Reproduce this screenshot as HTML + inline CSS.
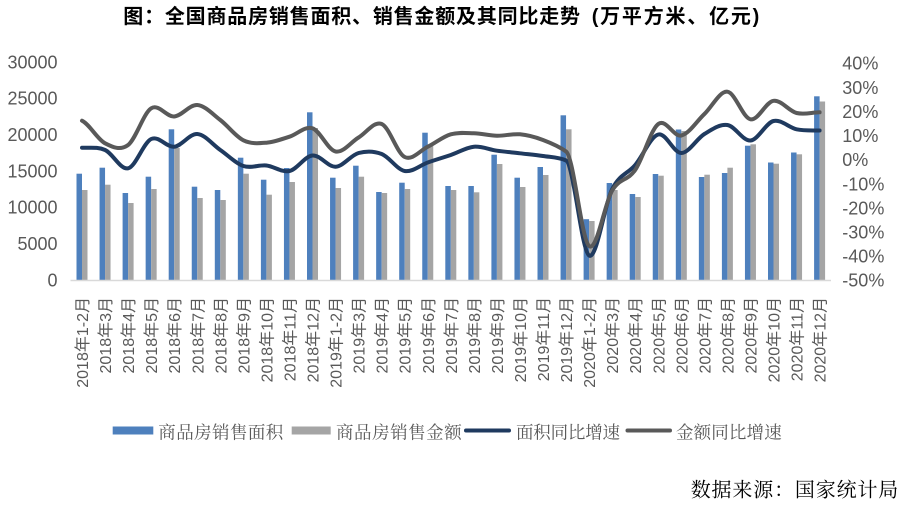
<!DOCTYPE html>
<html><head><meta charset="utf-8"><style>
html,body{margin:0;padding:0;background:#fff;}
svg{display:block;}
</style></head><body>
<svg width="924" height="514" viewBox="0 0 924 514" xmlns="http://www.w3.org/2000/svg">
<rect width="924" height="514" fill="#fff"/>
<!-- Title -->
<text x="123.3" y="23" font-family="'Liberation Sans','Noto Sans CJK SC',sans-serif" font-size="20" font-weight="bold" fill="#000" textLength="456.7">图：全国商品房销售面积、销售金额及其同比走势</text>
<text x="591.7" y="23" font-family="'Liberation Sans','Noto Sans CJK SC',sans-serif" font-size="20" font-weight="bold" fill="#000" textLength="167.6">(万平方米、亿元)</text>

<!-- Left axis labels -->
<g font-family="'Liberation Sans',sans-serif" font-size="18" fill="#595959" text-anchor="end">
<text x="57.5" y="68.4">30000</text>
<text x="57.5" y="104.7">25000</text>
<text x="57.5" y="141.1">20000</text>
<text x="57.5" y="177.4">15000</text>
<text x="57.5" y="213.7">10000</text>
<text x="57.5" y="250.1">5000</text>
<text x="57.5" y="286.4">0</text>
</g>
<!-- Right axis labels -->
<g font-family="'Liberation Sans',sans-serif" font-size="18" fill="#595959">
<text x="842.3" y="69.7">40%</text>
<text x="842.3" y="93.8">30%</text>
<text x="842.3" y="117.9">20%</text>
<text x="842.3" y="142.0">10%</text>
<text x="842.3" y="166.1">0%</text>
<text x="842.3" y="190.3">-10%</text>
<text x="842.3" y="214.4">-20%</text>
<text x="842.3" y="238.5">-30%</text>
<text x="842.3" y="262.6">-40%</text>
<text x="842.3" y="286.7">-50%</text>
</g>

<!-- Bars -->
<g>
<g transform="translate(82,0)"><rect x="-5.5" y="173.7" width="5.5" height="106.3" fill="#4E80BD"/><rect x="0" y="190" width="5.5" height="90" fill="#A5A5A5"/></g>
<g transform="translate(105.05,0)"><rect x="-5.5" y="167.7" width="5.5" height="112.3" fill="#4E80BD"/><rect x="0" y="184.7" width="5.5" height="95.3" fill="#A5A5A5"/></g>
<g transform="translate(128.1,0)"><rect x="-5.5" y="193" width="5.5" height="87" fill="#4E80BD"/><rect x="0" y="203" width="5.5" height="77" fill="#A5A5A5"/></g>
<g transform="translate(151.15,0)"><rect x="-5.5" y="176.7" width="5.5" height="103.3" fill="#4E80BD"/><rect x="0" y="189" width="5.5" height="91" fill="#A5A5A5"/></g>
<g transform="translate(174.2,0)"><rect x="-5.5" y="129.3" width="5.5" height="150.7" fill="#4E80BD"/><rect x="0" y="148" width="5.5" height="132" fill="#A5A5A5"/></g>
<g transform="translate(197.25,0)"><rect x="-5.5" y="186.7" width="5.5" height="93.3" fill="#4E80BD"/><rect x="0" y="198" width="5.5" height="82" fill="#A5A5A5"/></g>
<g transform="translate(220.3,0)"><rect x="-5.5" y="190" width="5.5" height="90" fill="#4E80BD"/><rect x="0" y="200" width="5.5" height="80" fill="#A5A5A5"/></g>
<g transform="translate(243.35,0)"><rect x="-5.5" y="157.7" width="5.5" height="122.3" fill="#4E80BD"/><rect x="0" y="173.7" width="5.5" height="106.3" fill="#A5A5A5"/></g>
<g transform="translate(266.4,0)"><rect x="-5.5" y="179.7" width="5.5" height="100.3" fill="#4E80BD"/><rect x="0" y="194.7" width="5.5" height="85.3" fill="#A5A5A5"/></g>
<g transform="translate(289.45,0)"><rect x="-5.5" y="168" width="5.5" height="112" fill="#4E80BD"/><rect x="0" y="182" width="5.5" height="98" fill="#A5A5A5"/></g>
<g transform="translate(312.5,0)"><rect x="-5.5" y="112.3" width="5.5" height="167.7" fill="#4E80BD"/><rect x="0" y="128" width="5.5" height="152" fill="#A5A5A5"/></g>
<g transform="translate(335.55,0)"><rect x="-5.5" y="177.7" width="5.5" height="102.3" fill="#4E80BD"/><rect x="0" y="188" width="5.5" height="92" fill="#A5A5A5"/></g>
<g transform="translate(358.6,0)"><rect x="-5.5" y="165.7" width="5.5" height="114.3" fill="#4E80BD"/><rect x="0" y="176.7" width="5.5" height="103.3" fill="#A5A5A5"/></g>
<g transform="translate(381.65,0)"><rect x="-5.5" y="192" width="5.5" height="88" fill="#4E80BD"/><rect x="0" y="193" width="5.5" height="87" fill="#A5A5A5"/></g>
<g transform="translate(404.7,0)"><rect x="-5.5" y="182.7" width="5.5" height="97.3" fill="#4E80BD"/><rect x="0" y="189" width="5.5" height="91" fill="#A5A5A5"/></g>
<g transform="translate(427.75,0)"><rect x="-5.5" y="132.7" width="5.5" height="147.3" fill="#4E80BD"/><rect x="0" y="146" width="5.5" height="134" fill="#A5A5A5"/></g>
<g transform="translate(450.8,0)"><rect x="-5.5" y="186" width="5.5" height="94" fill="#4E80BD"/><rect x="0" y="190" width="5.5" height="90" fill="#A5A5A5"/></g>
<g transform="translate(473.85,0)"><rect x="-5.5" y="186" width="5.5" height="94" fill="#4E80BD"/><rect x="0" y="192.3" width="5.5" height="87.7" fill="#A5A5A5"/></g>
<g transform="translate(496.9,0)"><rect x="-5.5" y="154.7" width="5.5" height="125.3" fill="#4E80BD"/><rect x="0" y="164" width="5.5" height="116" fill="#A5A5A5"/></g>
<g transform="translate(519.95,0)"><rect x="-5.5" y="177.7" width="5.5" height="102.3" fill="#4E80BD"/><rect x="0" y="187" width="5.5" height="93" fill="#A5A5A5"/></g>
<g transform="translate(543,0)"><rect x="-5.5" y="167" width="5.5" height="113" fill="#4E80BD"/><rect x="0" y="175" width="5.5" height="105" fill="#A5A5A5"/></g>
<g transform="translate(566.05,0)"><rect x="-5.5" y="115.3" width="5.5" height="164.7" fill="#4E80BD"/><rect x="0" y="129.3" width="5.5" height="150.7" fill="#A5A5A5"/></g>
<g transform="translate(589.1,0)"><rect x="-5.5" y="219.2" width="5.5" height="60.8" fill="#4E80BD"/><rect x="0" y="221" width="5.5" height="59" fill="#A5A5A5"/></g>
<g transform="translate(612.15,0)"><rect x="-5.5" y="183" width="5.5" height="97" fill="#4E80BD"/><rect x="0" y="190" width="5.5" height="90" fill="#A5A5A5"/></g>
<g transform="translate(635.2,0)"><rect x="-5.5" y="194" width="5.5" height="86" fill="#4E80BD"/><rect x="0" y="197" width="5.5" height="83" fill="#A5A5A5"/></g>
<g transform="translate(658.25,0)"><rect x="-5.5" y="174" width="5.5" height="106" fill="#4E80BD"/><rect x="0" y="175.7" width="5.5" height="104.3" fill="#A5A5A5"/></g>
<g transform="translate(681.3,0)"><rect x="-5.5" y="129.5" width="5.5" height="150.5" fill="#4E80BD"/><rect x="0" y="131" width="5.5" height="149" fill="#A5A5A5"/></g>
<g transform="translate(704.35,0)"><rect x="-5.5" y="177" width="5.5" height="103" fill="#4E80BD"/><rect x="0" y="174.7" width="5.5" height="105.3" fill="#A5A5A5"/></g>
<g transform="translate(727.4,0)"><rect x="-5.5" y="173" width="5.5" height="107" fill="#4E80BD"/><rect x="0" y="167.7" width="5.5" height="112.3" fill="#A5A5A5"/></g>
<g transform="translate(750.45,0)"><rect x="-5.5" y="145.7" width="5.5" height="134.3" fill="#4E80BD"/><rect x="0" y="144.3" width="5.5" height="135.7" fill="#A5A5A5"/></g>
<g transform="translate(773.5,0)"><rect x="-5.5" y="162.5" width="5.5" height="117.5" fill="#4E80BD"/><rect x="0" y="163.7" width="5.5" height="116.3" fill="#A5A5A5"/></g>
<g transform="translate(796.55,0)"><rect x="-5.5" y="152.5" width="5.5" height="127.5" fill="#4E80BD"/><rect x="0" y="154.3" width="5.5" height="125.7" fill="#A5A5A5"/></g>
<g transform="translate(819.6,0)"><rect x="-5.5" y="96.3" width="5.5" height="183.7" fill="#4E80BD"/><rect x="0" y="101.5" width="5.5" height="178.5" fill="#A5A5A5"/></g>
</g>

<!-- Axis line -->
<line x1="70.5" y1="280.5" x2="831" y2="280.5" stroke="#D9D9D9" stroke-width="1.5"/>

<!-- Lines -->
<path fill="none" stroke="#1F3A5F" stroke-width="4" stroke-linejoin="round" stroke-linecap="round" d="M82,147.7 C89.7,148.1 97.4,146.6 105.1,150 S120.4,170.1 128.1,168.3 S143.5,142.6 151.2,139 S166.5,147.5 174.2,146.7 S189.6,133.5 197.3,134 S212.6,144.7 220.3,150 S235.7,163.4 243.4,166 S258.7,164.7 266.4,165.5 S281.8,172.7 289.5,171 S304.8,156.2 312.5,155.5 S327.9,167.1 335.6,166.7 S350.9,155.1 358.6,153 S374,151 381.7,154 S397,169.6 404.7,171 S420.1,165.2 427.8,162.5 S443.1,157.6 450.8,155 S466.2,147.4 473.9,146.7 S489.2,149.6 496.9,150.7 S512.3,152.4 520,153.3 S535.3,154.8 543,156 S558.4,157 566.1,160.5 S581.4,250.8 589.1,255.5 S604.5,204.1 612.2,189 S627.5,174.1 635.2,165 S650.6,136.5 658.3,134.5 S673.6,153.1 681.3,153 S696.7,138.7 704.4,134 S719.7,123.9 727.4,125 S742.8,141.2 750.5,140.5 S765.8,122.9 773.5,121 S788.9,127.7 796.6,129.3 S811.9,130.3 819.6,130.5"/>
<path fill="none" stroke="#595959" stroke-width="4" stroke-linejoin="round" stroke-linecap="round" d="M82,120.7 C89.7,124.5 97.4,139.3 105.1,143.3 S120.4,150.8 128.1,145 S143.5,113.1 151.2,108.3 S166.5,117.1 174.2,116.5 S189.6,104.4 197.3,105 S212.6,114.1 220.3,120 S235.7,136.5 243.4,140.3 S258.7,143.3 266.4,142.7 S281.8,139.1 289.5,136.7 S304.8,125.8 312.5,128.3 S327.9,150 335.6,151.5 S350.9,142.1 358.6,137.5 S374,120.8 381.7,124 S397,153.2 404.7,157 S420.1,150.5 427.8,146.7 S443.1,136.5 450.8,134.3 S466.2,133.1 473.9,133.3 S489.2,135.5 496.9,135.7 S512.3,133.6 520,134.3 S535.3,137.1 543,140 S558.4,146 566.1,151.5 S581.4,239.5 589.1,246 S604.5,203.2 612.2,190.5 S627.5,181.1 635.2,170 S650.6,129.8 658.3,124 S673.6,137.2 681.3,135.5 S696.7,121.3 704.4,114 S719.7,90.8 727.4,91.7 S742.8,117.8 750.5,119.3 S765.8,101.9 773.5,100.8 S788.9,111.1 796.6,113 S811.9,112.4 819.6,112.3"/>

<!-- X labels -->
<g font-family="'Liberation Sans','Noto Sans CJK SC',sans-serif" font-size="16" fill="#595959" text-anchor="end">
<text transform="translate(88,297) rotate(-90)">2018年1-2月</text>
<text transform="translate(111.05,297) rotate(-90)">2018年3月</text>
<text transform="translate(134.1,297) rotate(-90)">2018年4月</text>
<text transform="translate(157.15,297) rotate(-90)">2018年5月</text>
<text transform="translate(180.2,297) rotate(-90)">2018年6月</text>
<text transform="translate(203.25,297) rotate(-90)">2018年7月</text>
<text transform="translate(226.3,297) rotate(-90)">2018年8月</text>
<text transform="translate(249.35,297) rotate(-90)">2018年9月</text>
<text transform="translate(272.4,297) rotate(-90)">2018年10月</text>
<text transform="translate(295.45,297) rotate(-90)">2018年11月</text>
<text transform="translate(318.5,297) rotate(-90)">2018年12月</text>
<text transform="translate(341.55,297) rotate(-90)">2019年1-2月</text>
<text transform="translate(364.6,297) rotate(-90)">2019年3月</text>
<text transform="translate(387.65,297) rotate(-90)">2019年4月</text>
<text transform="translate(410.7,297) rotate(-90)">2019年5月</text>
<text transform="translate(433.75,297) rotate(-90)">2019年6月</text>
<text transform="translate(456.8,297) rotate(-90)">2019年7月</text>
<text transform="translate(479.85,297) rotate(-90)">2019年8月</text>
<text transform="translate(502.9,297) rotate(-90)">2019年9月</text>
<text transform="translate(525.95,297) rotate(-90)">2019年10月</text>
<text transform="translate(549,297) rotate(-90)">2019年11月</text>
<text transform="translate(572.05,297) rotate(-90)">2019年12月</text>
<text transform="translate(595.1,297) rotate(-90)">2020年1-2月</text>
<text transform="translate(618.15,297) rotate(-90)">2020年3月</text>
<text transform="translate(641.2,297) rotate(-90)">2020年4月</text>
<text transform="translate(664.25,297) rotate(-90)">2020年5月</text>
<text transform="translate(687.3,297) rotate(-90)">2020年6月</text>
<text transform="translate(710.35,297) rotate(-90)">2020年7月</text>
<text transform="translate(733.4,297) rotate(-90)">2020年8月</text>
<text transform="translate(756.45,297) rotate(-90)">2020年9月</text>
<text transform="translate(779.5,297) rotate(-90)">2020年10月</text>
<text transform="translate(802.55,297) rotate(-90)">2020年11月</text>
<text transform="translate(825.6,297) rotate(-90)">2020年12月</text>
</g>

<!-- Legend -->
<rect x="112.7" y="426.5" width="40.6" height="8" fill="#4E80BD"/>
<rect x="291.7" y="426.5" width="39" height="8" fill="#A5A5A5"/>
<line x1="466" y1="430.5" x2="509" y2="430.5" stroke="#1F3A5F" stroke-width="4" stroke-linecap="round"/>
<line x1="627.5" y1="430.5" x2="670" y2="430.5" stroke="#595959" stroke-width="4" stroke-linecap="round"/>
<g font-family="'Liberation Serif','Noto Serif CJK SC',serif" font-size="17.5" fill="#595959">
<text x="158.3" y="438.5" textLength="125">商品房销售面积</text>
<text x="336" y="438.5" textLength="125.7">商品房销售金额</text>
<text x="516" y="438.5" textLength="104">面积同比增速</text>
<text x="676" y="438.5" textLength="105.7">金额同比增速</text>
</g>

<!-- Source -->
<text x="690.7" y="496.5" font-family="'Liberation Serif','Noto Serif CJK SC',serif" font-size="20" fill="#000" textLength="207.6">数据来源：国家统计局</text>
</svg>
</body></html>
